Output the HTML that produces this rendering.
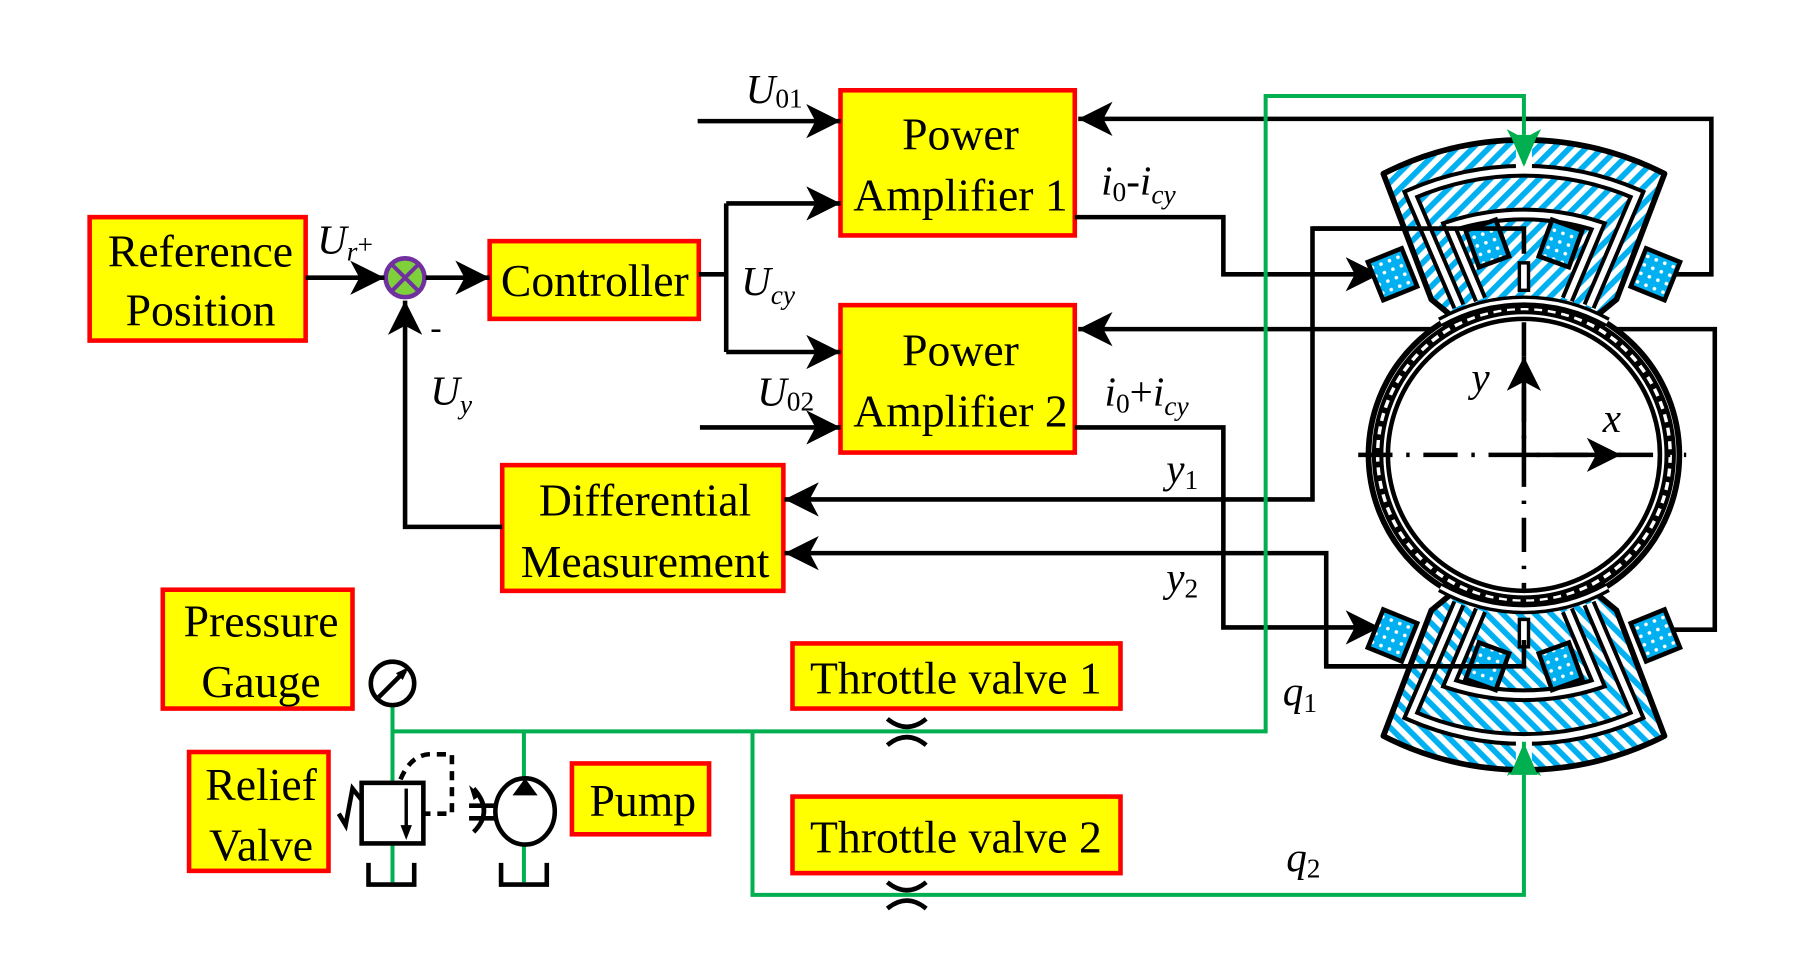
<!DOCTYPE html>
<html><head><meta charset="utf-8"><style>
html,body{margin:0;padding:0;background:#fff;width:1793px;height:968px;overflow:hidden}
svg{display:block}
.bx{fill:#ffff00;stroke:#ff0000;stroke-width:4}
.t{font-family:"Liberation Serif",serif;font-size:40px;fill:#000}
.l{font-family:"Liberation Serif",serif;font-size:36px;font-style:italic;fill:#000}
.s{font-size:24px;font-style:normal}
.si{font-size:24px}
.k{stroke:#000;stroke-width:4;fill:none}
.g{stroke:#00b050;stroke-width:3.5;fill:none}
</style></head><body>
<svg width="1793" height="968" viewBox="0 0 1568 847" xmlns="http://www.w3.org/2000/svg">
<defs>
<marker id="a" markerUnits="userSpaceOnUse" markerWidth="32" markerHeight="30" refX="30" refY="15" orient="auto"><path d="M0,0 L30,15 L0,30 L8,15 Z" fill="#000"/></marker>
<marker id="ag" markerUnits="userSpaceOnUse" markerWidth="32" markerHeight="30" refX="30" refY="15" orient="auto"><path d="M0,0 L30,15 L0,30 L8,15 Z" fill="#00b050"/></marker>
<pattern id="h" patternUnits="userSpaceOnUse" width="10" height="10" patternTransform="rotate(45)"><rect width="10" height="10" fill="#fff"/><rect width="5" height="10" fill="#00b0f0"/></pattern>
<pattern id="c" patternUnits="userSpaceOnUse" width="8" height="8"><rect width="8" height="8" fill="#00b0f0"/><circle cx="4" cy="4" r="1.6" fill="#fff"/></pattern>
</defs>

<rect class="bx" x="78" y="190" width="189" height="108"/>
<text class="t" x="175" y="233" text-anchor="middle">Reference</text>
<text class="t" x="175" y="285" text-anchor="middle">Position</text>
<rect class="bx" x="428" y="211" width="183" height="68"/>
<text class="t" x="520" y="259" text-anchor="middle">Controller</text>
<rect class="bx" x="735" y="79" width="205" height="127"/>
<text class="t" x="840" y="131" text-anchor="middle">Power</text>
<text class="t" x="840" y="184" text-anchor="middle">Amplifier 1</text>
<rect class="bx" x="735" y="267" width="205" height="129"/>
<text class="t" x="840" y="320" text-anchor="middle">Power</text>
<text class="t" x="840" y="373" text-anchor="middle">Amplifier 2</text>
<rect class="bx" x="439" y="407" width="246" height="110"/>
<text class="t" x="564" y="451" text-anchor="middle">Differential</text>
<text class="t" x="564" y="505" text-anchor="middle">Measurement</text>
<rect class="bx" x="142" y="516" width="166" height="104"/>
<text class="t" x="228" y="557" text-anchor="middle">Pressure</text>
<text class="t" x="228" y="610" text-anchor="middle">Gauge</text>
<rect class="bx" x="165" y="658" width="122" height="104"/>
<text class="t" x="228" y="700" text-anchor="middle">Relief</text>
<text class="t" x="228" y="753" text-anchor="middle">Valve</text>
<rect class="bx" x="500" y="668" width="120" height="62"/>
<text class="t" x="562" y="714" text-anchor="middle">Pump</text>
<rect class="bx" x="693" y="563" width="287" height="57"/>
<text class="t" x="836" y="607" text-anchor="middle">Throttle valve 1</text>
<rect class="bx" x="693" y="697" width="287" height="67"/>
<text class="t" x="836" y="746" text-anchor="middle">Throttle valve 2</text>

<circle cx="354" cy="243" r="17" fill="#7fd13b" stroke="#7030a0" stroke-width="4"/>
<path d="M342,231 L366,255 M366,231 L342,255" stroke="#7030a0" stroke-width="3.5"/>

<path class="k" d="M267,243 L336,243" marker-end="url(#a)"/>
<path class="k" d="M372,243 L428,243" marker-end="url(#a)"/>
<path class="k" d="M611,240 L635,240 M635,178 L635,308"/>
<path class="k" d="M635,178 L735,178" marker-end="url(#a)"/>
<path class="k" d="M635,308 L735,308" marker-end="url(#a)"/>
<path class="k" d="M610,106 L735,106" marker-end="url(#a)"/>
<path class="k" d="M612,374 L735,374" marker-end="url(#a)"/>
<path class="k" d="M940,190 L1070,190 L1070,240 L1207,240" marker-end="url(#a)"/>
<path class="k" d="M940,374 L1070,374 L1070,549 L1207,549" marker-end="url(#a)"/>
<path class="k" d="M1450,240 L1497,240 L1497,104 L943,104" marker-end="url(#a)"/>
<path class="k" d="M1440,551 L1500,551 L1500,288 L943,288" marker-end="url(#a)"/>
<path class="k" d="M1333,222 L1333,200 L1148,200 L1148,437 L686,437" marker-end="url(#a)"/>
<path class="k" d="M1333,560 L1333,583 L1160,583 L1160,484 L686,484" marker-end="url(#a)"/>
<path class="k" d="M439,461 L354,461 L354,263" marker-end="url(#a)"/>

<text class="l" x="652" y="90">U<tspan class="s" dy="4">01</tspan></text>
<text class="l" x="277" y="222">U<tspan class="si" dy="6">r</tspan><tspan class="s" dy="-6">+</tspan></text>
<text class="t" x="376" y="296" style="font-size:30px">-</text>
<text class="l" x="376" y="354">U<tspan class="si" dy="8">y</tspan></text>
<text class="l" x="648" y="258">U<tspan class="si" dy="8">cy</tspan></text>
<text class="l" x="662" y="355">U<tspan class="s" dy="4">02</tspan></text>
<text class="l" x="963" y="170">i<tspan class="s" dy="6">0</tspan><tspan dy="-6" style="font-style:normal">-</tspan>i<tspan class="si" dy="8">cy</tspan></text>
<text class="l" x="966" y="355">i<tspan class="s" dy="6">0</tspan><tspan dy="-6" style="font-style:normal">+</tspan>i<tspan class="si" dy="8">cy</tspan></text>
<text class="l" x="1020" y="422">y<tspan class="s" dy="6">1</tspan></text>
<text class="l" x="1020" y="517">y<tspan class="s" dy="6">2</tspan></text>
<text class="l" x="1122" y="617">q<tspan class="s" dy="6">1</tspan></text>
<text class="l" x="1125" y="762">q<tspan class="s" dy="6">2</tspan></text>

<path class="g" d="M343,640 L1107,640 L1107,84 L1333,84 L1333,143" marker-end="url(#ag)"/>
<path class="g" d="M658,640 L658,783 L1333,783 L1333,649" marker-end="url(#ag)"/>
<path class="g" d="M343,616 L343,772 M458,640 L458,686 M458,736 L458,772"/>
<circle cx="343" cy="598" r="19" fill="#fff" stroke="#000" stroke-width="4"/>
<path d="M331,610 L354,587" stroke="#000" stroke-width="4"/><path d="M357,584 L346,589 L352,595 Z" fill="#000"/>
<path class="k" d="M776,629 Q793,643 810,629 M776,652 Q793,638 810,652"/>
<path class="k" d="M776,772 Q793,786 810,772 M776,795 Q793,781 810,795"/>
<rect x="316" y="685" width="54" height="53" fill="#fff" stroke="#000" stroke-width="4"/>
<path class="k" d="M316,700 L308,690 L302,722 L296,712"/>
<path d="M355,690 L355,728" stroke="#000" stroke-width="3"/><path d="M350,722 L355,735 L360,722 Z" fill="#000"/>
<path class="k" stroke-dasharray="8,6" d="M350,682 Q360,658 380,660 L395,660 L395,712 L370,712"/>
<path class="k" d="M322,755 L322,774 L362,774 L362,755 M438,755 L438,774 L478,774 L478,755"/>
<ellipse cx="459" cy="710" rx="26" ry="29" fill="#fff" stroke="#000" stroke-width="4"/>
<path d="M448,696 L459,681 L470,696 Z" fill="#000"/>
<path class="k" d="M433,705 L410,705 M433,716 L410,716 M414,728 Q432,710 414,690"/>
<path d="M410,687 L420,696 L414,700 Z" fill="#000"/>

<g>
<circle cx="1333" cy="398" r="136" fill="#fff" stroke="#000" stroke-width="5"/>
<circle cx="1333" cy="398" r="128" fill="none" stroke="#000" stroke-width="10"/>
<circle cx="1333" cy="398" r="128" fill="none" stroke="#fff" stroke-width="3" stroke-dasharray="7,5"/>
<circle cx="1333" cy="398" r="119" fill="#fff" stroke="#000" stroke-width="4"/>
</g>

<g id="st">
<path d="M1210,152 A270,270 0 0 1 1456,152 L1414,262 L1392,280 A140,140 0 0 0 1274,280 L1252,262 Z" fill="url(#h)" stroke="#000" stroke-width="5" stroke-linejoin="round"/>
<path d="M1276,268 L1234,170 A248,248 0 0 1 1432,170 L1390,268" fill="none" stroke="#000" stroke-width="12"/>
<path d="M1276,268 L1234,170 A248,248 0 0 1 1432,170 L1390,268" fill="none" stroke="#fff" stroke-width="5"/>
<path d="M1295,262 L1268,198 A210,210 0 0 1 1398,198 L1371,262" fill="none" stroke="#000" stroke-width="12"/>
<path d="M1295,262 L1268,198 A210,210 0 0 1 1398,198 L1371,262" fill="none" stroke="#fff" stroke-width="5"/>
<path d="M1260,282 A150,150 0 0 1 1406,282" fill="none" stroke="#000" stroke-width="9"/>
<path d="M1260,282 A150,150 0 0 1 1406,282" fill="none" stroke="#fff" stroke-width="3"/>
<rect x="1326" y="118" width="14" height="32" fill="#fff"/>
<rect x="1329" y="230" width="8" height="24" fill="#fff" stroke="#000" stroke-width="3"/>
<rect x="1287" y="196" width="28" height="34" fill="url(#c)" stroke="#000" stroke-width="4" transform="rotate(-20 1301 213)"/>
<rect x="1351" y="196" width="28" height="34" fill="url(#c)" stroke="#000" stroke-width="4" transform="rotate(20 1365 213)"/>
<rect x="1202" y="222" width="32" height="36" fill="url(#c)" stroke="#000" stroke-width="4" transform="rotate(-22 1218 240)"/>
<rect x="1432" y="222" width="32" height="36" fill="url(#c)" stroke="#000" stroke-width="4" transform="rotate(22 1448 240)"/>
</g>
<use href="#st" transform="translate(0,796) scale(1,-1)"/>
<path class="k" d="M1333,222 L1333,200 L1148,200 M1333,560 L1333,583 L1160,583"/>
<path class="g" d="M1333,118 L1333,143 M1333,678 L1333,649"/>
<path d="M1321,118 L1333,146 L1345,118 Z M1321,678 L1333,650 L1345,678 Z" fill="#00b050"/>

<path d="M1188,398 L1475,398" stroke="#000" stroke-width="4" stroke-dasharray="30,12,3,12"/>
<path d="M1333,282 L1333,515" stroke="#000" stroke-width="4" stroke-dasharray="30,12,3,12"/>
<path class="k" d="M1333,398 L1418,398" marker-end="url(#a)"/>
<path class="k" d="M1333,398 L1333,312" marker-end="url(#a)"/>
<text class="l" x="1287" y="342">y</text>
<text class="l" x="1402" y="378">x</text>
</svg>
</body></html>
